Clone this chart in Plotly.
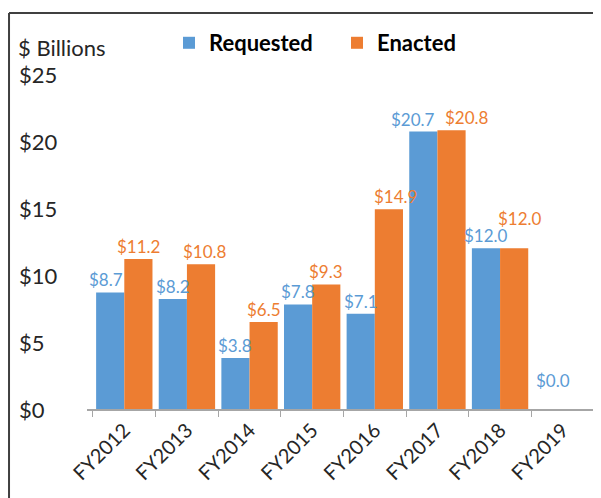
import plotly.graph_objects as go

# data
years = ["FY2012", "FY2013", "FY2014", "FY2015", "FY2016", "FY2017", "FY2018", "FY2019"]
requested = [8.7, 8.2, 3.8, 7.8, 7.1, 20.7, 12.0, 0.0]
enacted = [11.2, 10.8, 6.5, 9.3, 14.9, 20.8, 12.0, None]
y_ticks = [0, 5, 10, 15, 20, 25]

BLUE = "#5B9BD5"
ORANGE = "#ED7D31"
TEXT = "#262626"
FONT = "Lato"

# label nudges (px) where the original moved data labels to avoid overlap
BAR_OFFSET = 14.3
nudge_req = {0: (-4, 0), 5: (-10, 0), 7: (5, 16)}
nudge_enc = {1: (4, 0), 4: (6, 0), 5: (15, 0), 6: (6, 17)}

fig = go.Figure()
fig.add_trace(go.Bar(x=years, y=requested, name="Requested",
                     marker=dict(color=BLUE, line_width=0), hoverinfo="x+y"))
fig.add_trace(go.Bar(x=years, y=enacted, name="Enacted",
                     marker=dict(color=ORANGE, line_width=0), hoverinfo="x+y"))

# data labels
for vals, color, sign, nudges in [(requested, BLUE, -1, nudge_req), (enacted, ORANGE, 1, nudge_enc)]:
    for i, (cat, v) in enumerate(zip(years, vals)):
        if v is None:
            continue
        dx, dy = nudges.get(i, (0, 0))
        fig.add_annotation(
            x=cat, xref="x", y=v, yref="y", text=f"${v:.1f}", showarrow=False,
            xanchor="center", yanchor="bottom", xshift=sign * BAR_OFFSET + dx, yshift=dy,
            font=dict(size=17, color=color, family=FONT),
        )

# y tick labels, left aligned like the original
for v in y_ticks:
    fig.add_annotation(
        x=-0.138, xref="paper", y=v, yref="y", text=f"${v}", showarrow=False,
        xanchor="left", yanchor="middle", font=dict(size=22, color=TEXT, family=FONT),
    )

fig.add_annotation(
    x=-0.14, xref="paper", y=1.08, yref="paper", text="$ Billions", showarrow=False,
    xanchor="left", yanchor="middle", font=dict(size=22, color=TEXT, family=FONT),
)

# chart border (only top and left edges are visible)
fig.add_shape(type="line", xref="paper", yref="paper", x0=-0.1538, x1=1.1, y0=1.182, y1=1.182,
              line=dict(color="#404040", width=2))
fig.add_shape(type="line", xref="paper", yref="paper", x0=-0.1538, x1=-0.1538, y0=1.182, y1=-0.3,
              line=dict(color="#404040", width=2))

fig.update_layout(
    width=593, height=490,
    margin=dict(l=79, r=7, t=66, b=89, autoexpand=False),
    paper_bgcolor="white", plot_bgcolor="white",
    barmode="group", bargap=0.1, bargroupgap=0,
    font=dict(family=FONT, color=TEXT),
    showlegend=True,
    legend=dict(
        orientation="h", xref="container", yref="container",
        x=0.2715, y=0.9286, xanchor="left", yanchor="middle",
        font=dict(size=22, family=FONT, color="black", weight="bold"),
        itemwidth=30, entrywidth=123, bgcolor="rgba(0,0,0,0)",
    ),
    xaxis=dict(
        showline=True, linecolor="#a6a6a6", linewidth=1.5,
        ticks="outside", tickson="boundaries", ticklen=6, tickcolor="#a6a6a6",
        tickangle=-45, tickfont=dict(size=20, family=FONT, color=TEXT),
        showgrid=False, fixedrange=True, automargin=False,
    ),
    yaxis=dict(
        range=[0, 25], showticklabels=False, showgrid=False, zeroline=False,
        showline=False, ticks="", fixedrange=True, automargin=False,
    ),
)

fig.write_html("out.html")
